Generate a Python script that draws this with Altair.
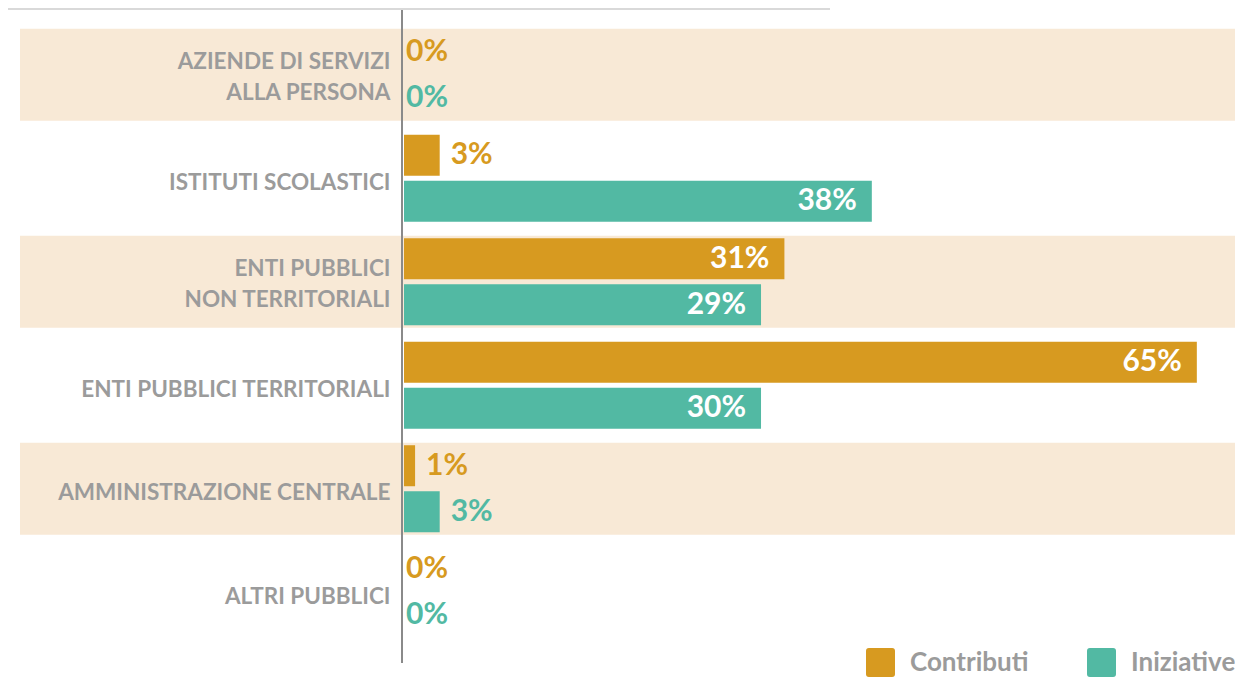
import altair as alt
import pandas as pd

# ---- data ----
categories = [
    "Aziende di Servizi\nalla Persona",
    "Istituti scolastici",
    "Enti pubblici\nnon territoriali",
    "Enti pubblici territoriali",
    "Amministrazione centrale",
    "Altri pubblici",
]
series = ["Contributi", "Iniziative"]
contributi = [0, 2.9, 30.9, 64.4, 0.9, 0]
iniziative = [0, 38.0, 29.0, 29.0, 2.9, 0]
labels_contributi = ["0%", "3%", "31%", "65%", "1%", "0%"]
labels_iniziative = ["0%", "38%", "29%", "30%", "3%", "0%"]

colors = ["#D79A20", "#52B9A3"]
BAND = "#F8E9D6"
GRAY = "#9B9B9B"
FONT = "Lato"

rows = []
for c, v, l in zip(categories, contributi, labels_contributi):
    rows.append({"category": c, "series": series[0], "value": v, "label": l})
for c, v, l in zip(categories, iniziative, labels_iniziative):
    rows.append({"category": c, "series": series[1], "value": v, "label": l})
df = pd.DataFrame(rows)
cat_df = pd.DataFrame({"category": categories})

W, H = 831, 621

y_enc = alt.Y(
    "category:N",
    sort=categories,
    scale=alt.Scale(paddingInner=0.111, paddingOuter=0.0555),
    axis=alt.Axis(
        title=None, domain=False, ticks=False, tickSize=0, grid=False, zindex=2,
        labelPadding=14, labelFont=FONT, labelFontSize=22.5, labelFontWeight="bold",
        labelColor=GRAY, labelLineHeight=31, labelLimit=400,
        labelBaseline="alphabetic",
        labelOffset={"condition": {"test": "indexof(datum.value, '\\n') >= 0", "value": -6},
                     "value": 11.5},
        labelExpr="split(upper(datum.label), '\\n')",
    ),
)
y_off = alt.YOffset("series:N", sort=series,
                    scale=alt.Scale(paddingInner=0.109, paddingOuter=0.054))
x_scale = alt.Scale(domain=[0, 67.5], nice=False, zero=True)
color_enc = alt.Color(
    "series:N", sort=series,
    scale=alt.Scale(domain=series, range=colors),
    legend=alt.Legend(
        title=None, orient="none", legendX=462, legendY=625, direction="horizontal",
        symbolType="M-0.8,-1H0.8Q1,-1,1,-0.8V0.8Q1,1,0.8,1H-0.8Q-1,1,-1,0.8V-0.8Q-1,-1,-0.8,-1Z",
        symbolSize=841, symbolStrokeWidth=0, symbolOpacity=1,
        labelFont=FONT, labelFontSize=26, labelFontWeight="bold", labelColor=GRAY,
        labelOffset=15, columnPadding=58, padding=0,
    ),
)

bands = (
    alt.Chart(cat_df)
    .transform_window(idx="row_number()")
    .transform_filter("datum.idx % 2 == 1")
    .mark_bar(color=BAND)
    .encode(y=y_enc, x=alt.value(-384), x2=alt.value(W))
)

top_line = alt.Chart(cat_df).mark_rule(color="#D9D9D9", strokeWidth=2).encode(
    x=alt.value(-396), x2=alt.value(426), y=alt.value(-14)
)
axis_line = alt.Chart(cat_df).mark_rule(color="#8A8A8A", strokeWidth=1.5).encode(
    x=alt.value(-2), y=alt.value(-13), y2=alt.value(640)
)

base = alt.Chart(df)
x_enc = alt.X("value:Q", scale=x_scale, axis=None)
text_color = alt.Color("series:N", scale=alt.Scale(domain=series, range=colors), legend=None)

bars = base.mark_bar().encode(y=y_enc, yOffset=y_off, x=x_enc, color=color_enc)

txt_inside = base.transform_filter("datum.value >= 10").mark_text(
    align="right", baseline="middle", dx=-15, font=FONT, fontSize=30,
    fontWeight="bold", color="white",
).encode(y=y_enc, yOffset=y_off, x=x_enc, text="label:N")

txt_outside = base.transform_filter("datum.value > 0 && datum.value < 10").mark_text(
    align="left", baseline="middle", dx=11, font=FONT, fontSize=30, fontWeight="bold",
).encode(y=y_enc, yOffset=y_off, x=x_enc, text="label:N", color=text_color)

txt_zero = base.transform_filter("datum.value == 0").mark_text(
    align="left", baseline="middle", dx=2, font=FONT, fontSize=30, fontWeight="bold",
).encode(y=y_enc, yOffset=y_off, x=x_enc, text="label:N", color=text_color)

chart = (
    alt.layer(bands, top_line, axis_line, bars, txt_inside, txt_outside, txt_zero)
    .properties(
        width=W, height=H,
        padding={"left": 396, "top": 15, "right": 0, "bottom": 33},
        autosize=alt.AutoSizeParams(type="none"),
        background="white",
    )
    .configure_view(stroke=None)
)

chart.save("out.html", embed_options={"renderer": "svg", "actions": False})
